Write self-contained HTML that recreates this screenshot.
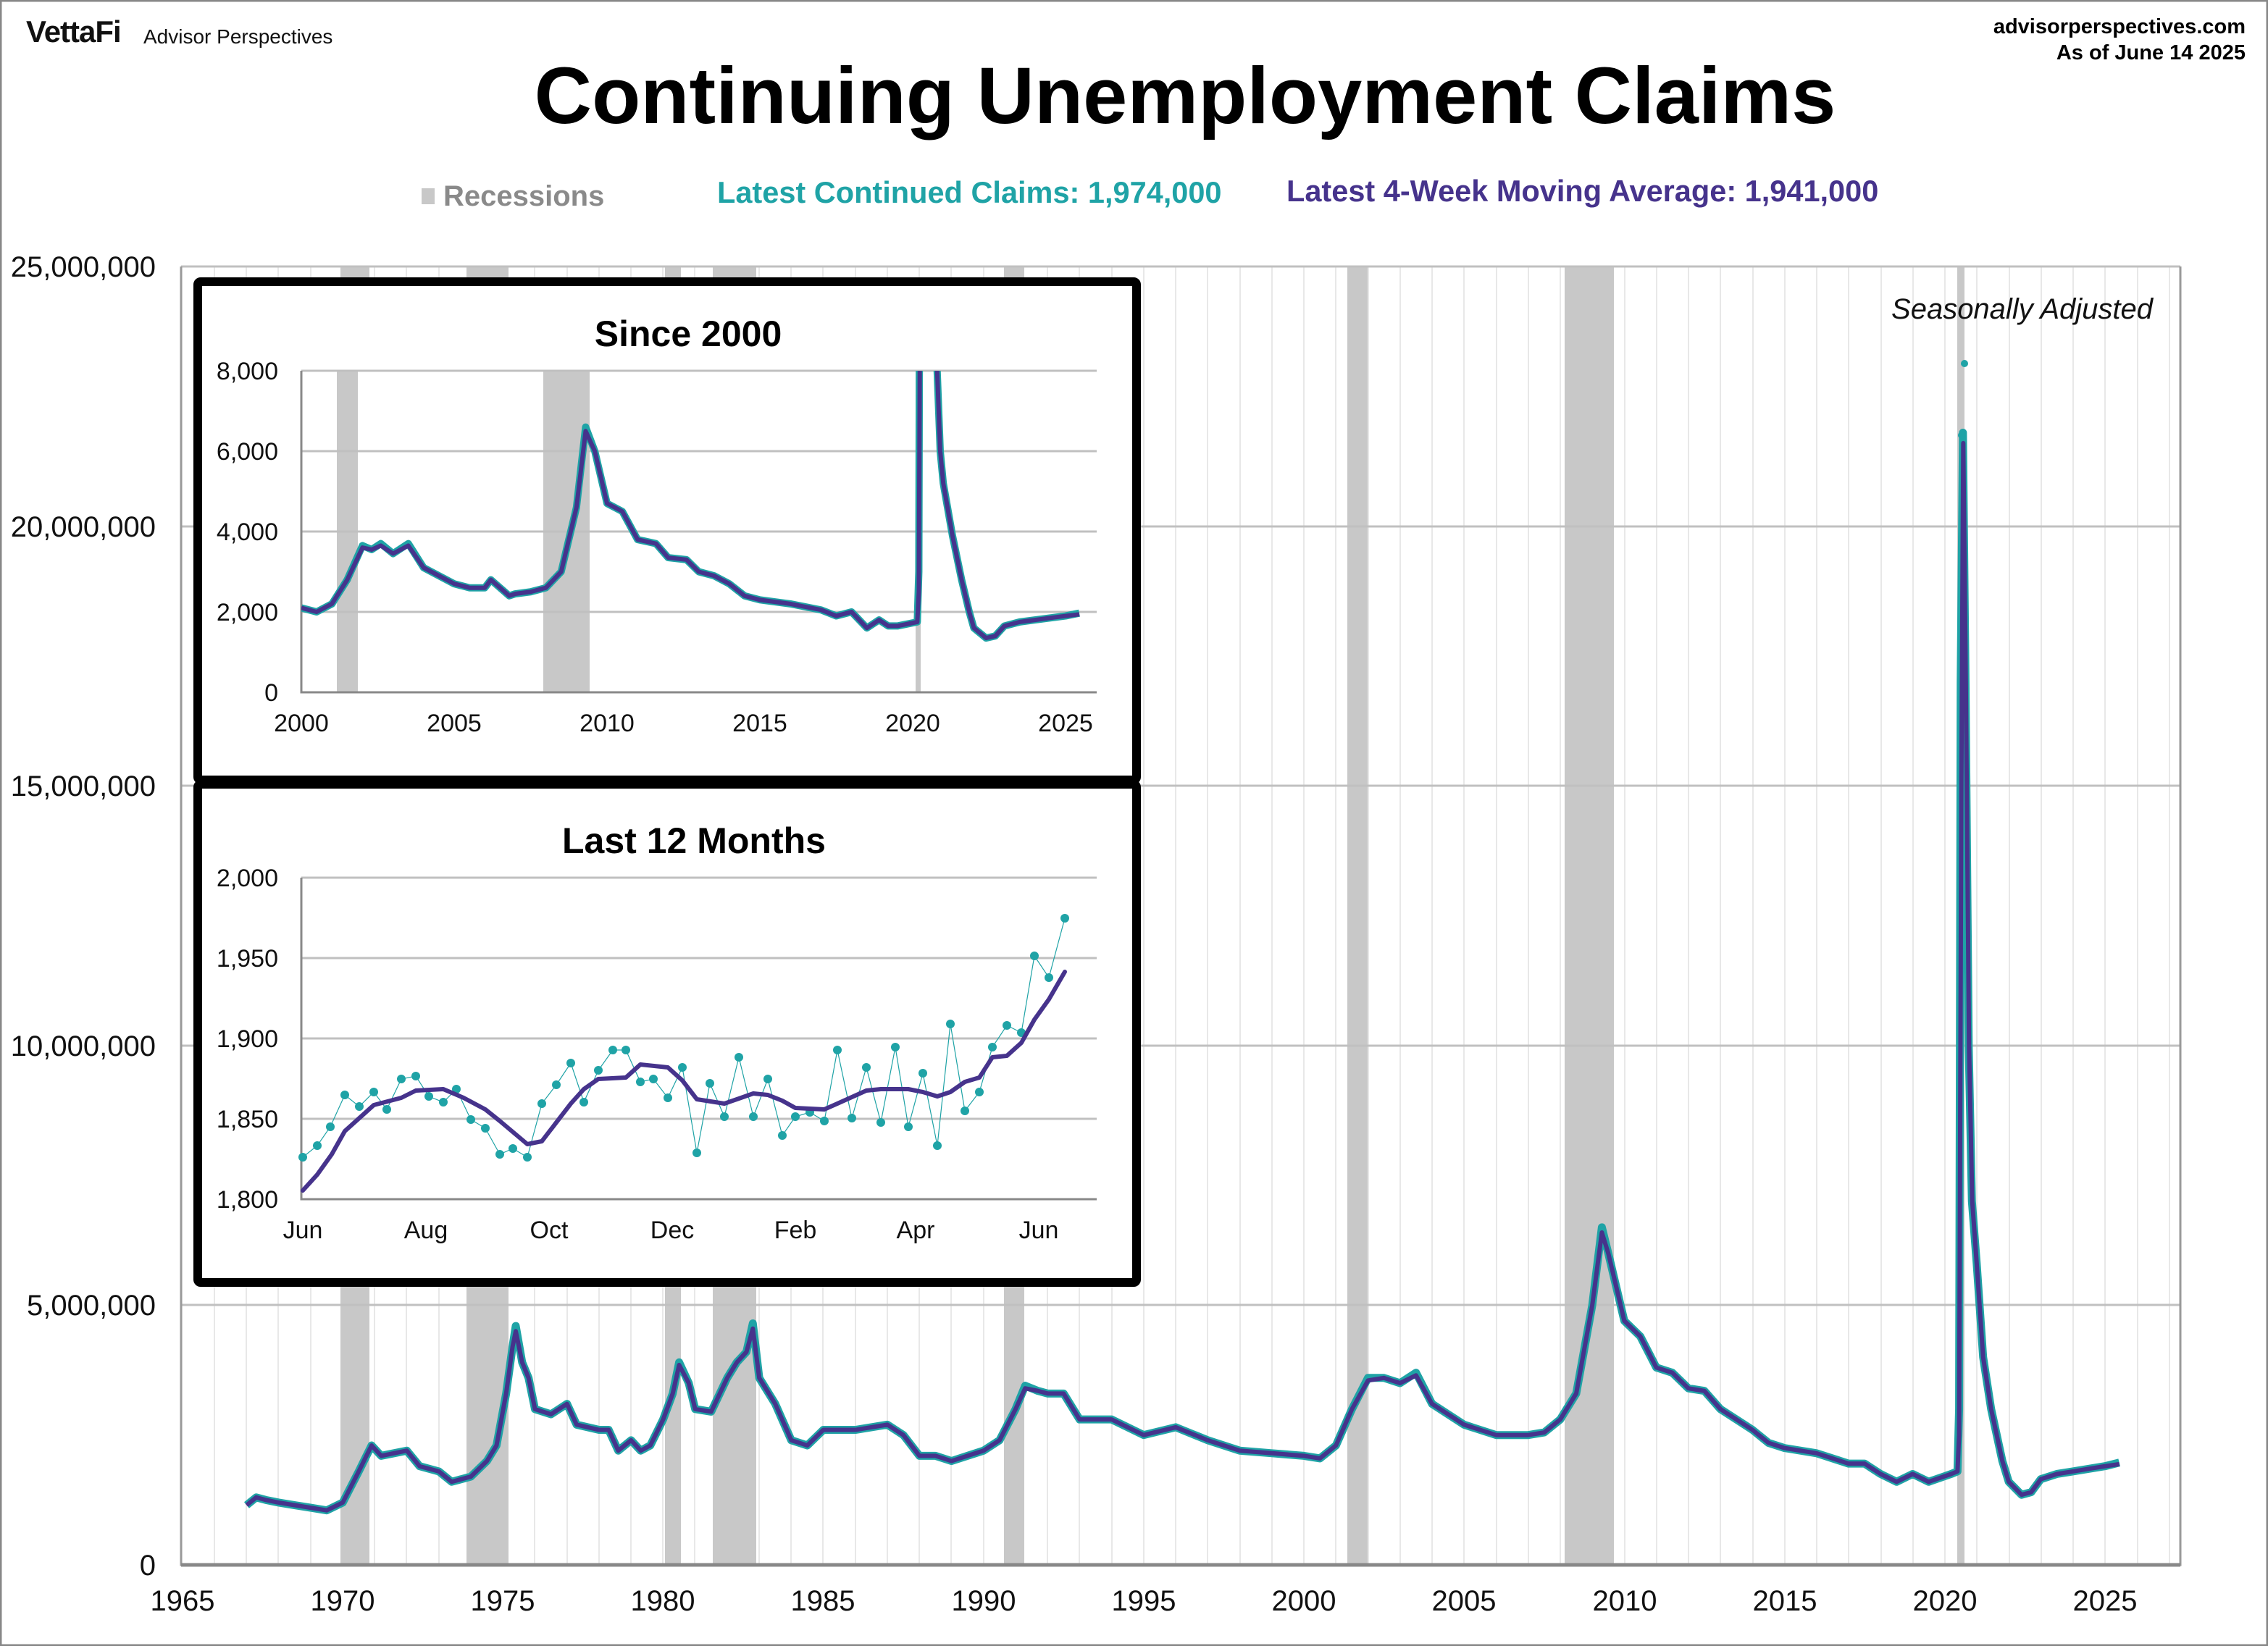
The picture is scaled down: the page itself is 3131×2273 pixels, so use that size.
<!DOCTYPE html>
<html><head><meta charset="utf-8"><style>
html,body{margin:0;padding:0;background:#fff}
svg{display:block;font-family:"Liberation Sans",Arial,sans-serif}
</style></head><body>
<svg width="3131" height="2273" viewBox="0 0 3131 2273" xmlns="http://www.w3.org/2000/svg">
<defs>
<clipPath id="c1"><rect x="416" y="512" width="1098" height="444"/></clipPath>
<clipPath id="cm"><rect x="250" y="368" width="2760" height="1793"/></clipPath>
</defs>
<rect x="1" y="1" width="3129" height="2271" fill="#fff" stroke="#888" stroke-width="3"/>
<!-- header -->
<text x="36" y="58" font-size="42" font-weight="bold" fill="#111" letter-spacing="-1">VettaFi</text>
<text x="198" y="60" font-size="28" fill="#111">Advisor Perspectives</text>
<text x="3100" y="46" font-size="29" font-weight="bold" text-anchor="end">advisorperspectives.com</text>
<text x="3100" y="82" font-size="29" font-weight="bold" text-anchor="end">As of June 14 2025</text>
<text x="1636" y="170" font-size="110" font-weight="bold" text-anchor="middle">Continuing Unemployment Claims</text>
<rect x="582" y="260" width="18" height="22" fill="#c8c8c8"/>
<text x="612" y="284" font-size="40" font-weight="bold" fill="#8a8a8a">Recessions</text>
<text x="990" y="280" font-size="41.5" font-weight="bold" fill="#1fa3a6">Latest Continued Claims: 1,974,000</text>
<text x="1776" y="278" font-size="41.5" font-weight="bold" fill="#46338c">Latest 4-Week Moving Average: 1,941,000</text>

<!-- main chart grid -->
<g stroke="#e8e8e8" stroke-width="2">
<path d="M296 368V2161M340 368V2161M384 368V2161M429 368V2161M473 368V2161M517 368V2161M561 368V2161M606 368V2161M650 368V2161M694 368V2161M738 368V2161M783 368V2161M827 368V2161M871 368V2161M915 368V2161M959 368V2161M1004 368V2161M1048 368V2161M1092 368V2161M1136 368V2161M1181 368V2161M1225 368V2161M1269 368V2161M1313 368V2161M1358 368V2161M1402 368V2161M1446 368V2161M1490 368V2161M1535 368V2161M1579 368V2161M1623 368V2161M1667 368V2161M1712 368V2161M1756 368V2161M1800 368V2161M1844 368V2161M1889 368V2161M1933 368V2161M1977 368V2161M2021 368V2161M2066 368V2161M2110 368V2161M2154 368V2161M2198 368V2161M2243 368V2161M2287 368V2161M2331 368V2161M2375 368V2161M2420 368V2161M2464 368V2161M2508 368V2161M2552 368V2161M2597 368V2161M2641 368V2161M2685 368V2161M2729 368V2161M2774 368V2161M2818 368V2161M2862 368V2161M2906 368V2161M2951 368V2161M2995 368V2161"/>
</g>
<!-- recessions main -->
<g fill="#c8c8c8">
<rect x="470" y="368" width="40" height="1793"/>
<rect x="644" y="368" width="58" height="1793"/>
<rect x="918" y="368" width="22" height="1793"/>
<rect x="984" y="368" width="60" height="1793"/>
<rect x="1386" y="368" width="28" height="1793"/>
<rect x="1860" y="368" width="28" height="1793"/>
<rect x="2160" y="368" width="68" height="1793"/>
<rect x="2702" y="368" width="10" height="1793"/>
</g>
<g stroke="#c0c0c0" stroke-width="3">
<path d="M250 368H3010M250 727H3010M250 1085H3010M250 1444H3010M250 1802H3010"/>
</g>
<path d="M250 368V2161H3010V368" fill="none" stroke="#999" stroke-width="3"/>
<path d="M250 2161H3010" stroke="#888" stroke-width="5"/>
<!-- y labels -->
<g font-size="40" text-anchor="end" fill="#111">
<text x="215" y="382">25,000,000</text>
<text x="215" y="741">20,000,000</text>
<text x="215" y="1099">15,000,000</text>
<text x="215" y="1458">10,000,000</text>
<text x="215" y="1816">5,000,000</text>
<text x="215" y="2175">0</text>
</g>
<g font-size="40" text-anchor="middle" fill="#111">
<text x="252" y="2224">1965</text><text x="473" y="2224">1970</text><text x="694" y="2224">1975</text><text x="915" y="2224">1980</text><text x="1136" y="2224">1985</text><text x="1358" y="2224">1990</text><text x="1579" y="2224">1995</text><text x="1800" y="2224">2000</text><text x="2021" y="2224">2005</text><text x="2243" y="2224">2010</text><text x="2464" y="2224">2015</text><text x="2685" y="2224">2020</text><text x="2906" y="2224">2025</text>
</g>
<text x="2972" y="440" font-size="40" font-style="italic" text-anchor="end" fill="#111">Seasonally Adjusted</text>
<!-- main series -->
<g clip-path="url(#cm)">
<g transform="translate(252,2161) scale(44.23,-71.72) translate(-1965,0)">
<polyline vector-effect="non-scaling-stroke" fill="none" stroke="#1fa3a6" stroke-width="11" stroke-linejoin="round" points="1967,1.15 1967.3,1.3 1967.6,1.25 1968,1.2 1968.5,1.15 1969,1.1 1969.5,1.05 1970,1.2 1970.5,1.8 1970.7,2.05 1970.9,2.3 1971.2,2.1 1971.6,2.15 1972,2.2 1972.4,1.9 1973,1.8 1973.4,1.6 1974,1.7 1974.5,2.0 1974.8,2.3 1975.1,3.3 1975.3,4.2 1975.4,4.6 1975.6,3.9 1975.8,3.6 1976,3.0 1976.5,2.9 1977,3.1 1977.3,2.7 1978,2.6 1978.3,2.6 1978.6,2.2 1979,2.4 1979.3,2.2 1979.6,2.3 1980,2.8 1980.3,3.3 1980.5,3.9 1980.8,3.5 1981,3.0 1981.5,2.95 1982,3.6 1982.3,3.9 1982.6,4.1 1982.8,4.65 1983,3.6 1983.5,3.1 1984,2.4 1984.5,2.3 1985,2.6 1986,2.6 1986.5,2.65 1987,2.7 1987.5,2.5 1988,2.1 1988.5,2.1 1989,2.0 1989.5,2.1 1990,2.2 1990.5,2.4 1991,3.0 1991.3,3.45 1991.7,3.35 1992,3.3 1992.5,3.3 1993,2.8 1993.5,2.8 1994,2.8 1995,2.5 1996,2.65 1997,2.4 1998,2.2 1999,2.15 2000,2.1 2000.5,2.05 2001,2.3 2001.5,3.0 2002,3.6 2002.5,3.6 2003,3.5 2003.5,3.7 2004,3.1 2004.5,2.9 2005,2.7 2006,2.5 2007,2.5 2007.5,2.55 2008,2.8 2008.5,3.3 2009,5.0 2009.3,6.5 2009.5,6.0 2010,4.7 2010.5,4.4 2011,3.8 2011.5,3.7 2012,3.4 2012.5,3.35 2013,3.0 2014,2.6 2014.5,2.35 2015,2.25 2016,2.15 2017,1.95 2017.5,1.95 2018,1.75 2018.5,1.6 2019,1.75 2019.5,1.6 2020.2,1.75 2020.4,1.8 2020.45,3.0 2020.5,17 2020.57,21.8 2020.65,17 2020.75,10 2020.85,7 2021,5.8 2021.2,4.0 2021.45,3.0 2021.8,2.0 2022,1.6 2022.4,1.35 2022.7,1.4 2023,1.65 2023.5,1.75 2024,1.8 2024.5,1.85 2025,1.9 2025.45,1.97"/>
<polyline vector-effect="non-scaling-stroke" fill="none" stroke="#46338c" stroke-width="6" stroke-linejoin="round" points="1967,1.15 1967.3,1.3 1967.6,1.25 1968,1.2 1968.5,1.15 1969,1.1 1969.5,1.05 1970,1.2 1970.5,1.8 1970.7,2.05 1970.9,2.3 1971.2,2.1 1971.6,2.15 1972,2.2 1972.4,1.9 1973,1.8 1973.4,1.6 1974,1.7 1974.5,2.0 1974.8,2.3 1975.1,3.3 1975.3,4.2 1975.4,4.5 1975.6,3.9 1975.8,3.6 1976,3.0 1976.5,2.9 1977,3.1 1977.3,2.7 1978,2.6 1978.3,2.6 1978.6,2.2 1979,2.4 1979.3,2.2 1979.6,2.3 1980,2.8 1980.3,3.3 1980.5,3.85 1980.8,3.5 1981,3.0 1981.5,2.95 1982,3.6 1982.3,3.9 1982.6,4.1 1982.8,4.55 1983,3.6 1983.5,3.1 1984,2.4 1984.5,2.3 1985,2.6 1986,2.6 1986.5,2.65 1987,2.7 1987.5,2.5 1988,2.1 1988.5,2.1 1989,2.0 1989.5,2.1 1990,2.2 1990.5,2.4 1991,3.0 1991.3,3.4 1991.7,3.35 1992,3.3 1992.5,3.3 1993,2.8 1993.5,2.8 1994,2.8 1995,2.5 1996,2.65 1997,2.4 1998,2.2 1999,2.15 2000,2.1 2000.5,2.05 2001,2.3 2001.5,3.0 2002,3.55 2002.5,3.6 2003,3.5 2003.5,3.65 2004,3.1 2004.5,2.9 2005,2.7 2006,2.5 2007,2.5 2007.5,2.55 2008,2.8 2008.5,3.3 2009,5.0 2009.3,6.4 2009.5,6.0 2010,4.7 2010.5,4.4 2011,3.8 2011.5,3.7 2012,3.4 2012.5,3.35 2013,3.0 2014,2.6 2014.5,2.35 2015,2.25 2016,2.15 2017,1.95 2017.5,1.95 2018,1.75 2018.5,1.6 2019,1.75 2019.5,1.6 2020.2,1.75 2020.4,1.8 2020.45,2.5 2020.52,15 2020.58,21.6 2020.66,17 2020.76,10 2020.86,7 2021,5.8 2021.2,4.0 2021.45,3.0 2021.8,2.0 2022,1.6 2022.4,1.35 2022.7,1.4 2023,1.65 2023.5,1.75 2024,1.8 2024.5,1.85 2025,1.9 2025.45,1.94"/>
</g>
<circle cx="2712" cy="502" r="5" fill="#1fa3a6"/>
<circle cx="2708" cy="601" r="5" fill="#1fa3a6"/>
</g>

<!-- inset 1 -->
<rect x="273" y="389" width="1296" height="688" fill="#fff" stroke="#000" stroke-width="12" rx="4"/>
<text x="950" y="478" font-size="50" font-weight="bold" text-anchor="middle">Since 2000</text>
<g fill="#c8c8c8">
<rect x="465" y="512" width="29" height="444"/>
<rect x="750" y="512" width="64" height="444"/>
<rect x="1264" y="512" width="7" height="444"/>
</g>
<g stroke="#c0c0c0" stroke-width="3"><path d="M416 512H1514M416 623H1514M416 734H1514M416 845H1514"/></g>
<path d="M416 512V956H1514" fill="none" stroke="#888" stroke-width="3"/>
<g font-size="34" text-anchor="end" fill="#111">
<text x="384" y="524">8,000</text><text x="384" y="635">6,000</text><text x="384" y="746">4,000</text><text x="384" y="857">2,000</text><text x="384" y="968">0</text>
</g>
<g font-size="34" text-anchor="middle" fill="#111">
<text x="416" y="1010">2000</text><text x="627" y="1010">2005</text><text x="838" y="1010">2010</text><text x="1049" y="1010">2015</text><text x="1260" y="1010">2020</text><text x="1471" y="1010">2025</text>
</g>
<g clip-path="url(#c1)">
<g transform="translate(416,956) scale(42.2,-55.5) translate(-2000,0)">
<polyline vector-effect="non-scaling-stroke" fill="none" stroke="#1fa3a6" stroke-width="10" stroke-linejoin="round" points="2000,2.1 2000.5,2.0 2001,2.2 2001.5,2.8 2002,3.65 2002.3,3.55 2002.6,3.7 2003,3.45 2003.5,3.7 2004,3.1 2004.5,2.9 2005,2.7 2005.5,2.6 2006,2.6 2006.2,2.8 2006.8,2.4 2007,2.45 2007.5,2.5 2008,2.6 2008.5,3.0 2009,4.6 2009.3,6.6 2009.6,6.0 2010,4.7 2010.5,4.5 2011,3.8 2011.6,3.7 2012,3.35 2012.6,3.3 2013,3.0 2013.5,2.9 2014,2.7 2014.5,2.4 2015,2.3 2016,2.2 2017,2.05 2017.5,1.9 2018,2.0 2018.5,1.6 2018.9,1.8 2019.2,1.65 2019.5,1.65 2020.15,1.75 2020.2,3.0 2020.25,18 2020.35,22 2020.5,17 2020.7,11 2020.8,8 2020.9,6 2021,5.2 2021.3,3.9 2021.6,2.8 2021.85,2.0 2022,1.6 2022.4,1.35 2022.7,1.4 2023,1.65 2023.5,1.75 2024,1.8 2024.5,1.85 2025,1.9 2025.45,1.97"/>
<polyline vector-effect="non-scaling-stroke" fill="none" stroke="#46338c" stroke-width="6" stroke-linejoin="round" points="2000,2.1 2000.5,2.0 2001,2.2 2001.5,2.8 2002,3.6 2002.3,3.55 2002.6,3.65 2003,3.45 2003.5,3.65 2004,3.1 2004.5,2.9 2005,2.7 2005.5,2.6 2006,2.6 2006.2,2.8 2006.8,2.4 2007,2.45 2007.5,2.5 2008,2.6 2008.5,3.0 2009,4.6 2009.3,6.5 2009.6,6.0 2010,4.7 2010.5,4.5 2011,3.8 2011.6,3.7 2012,3.35 2012.6,3.3 2013,3.0 2013.5,2.9 2014,2.7 2014.5,2.4 2015,2.3 2016,2.2 2017,2.05 2017.5,1.9 2018,2.0 2018.5,1.6 2018.9,1.8 2019.2,1.65 2019.5,1.65 2020.15,1.75 2020.2,2.5 2020.27,15 2020.35,21.6 2020.5,17 2020.7,11 2020.8,8 2020.9,6 2021,5.2 2021.3,3.9 2021.6,2.8 2021.85,2.0 2022,1.6 2022.4,1.35 2022.7,1.4 2023,1.65 2023.5,1.75 2024,1.8 2024.5,1.85 2025,1.9 2025.45,1.94"/>
</g>
</g>

<!-- inset 2 -->
<rect x="273" y="1083" width="1296" height="688" fill="#fff" stroke="#000" stroke-width="12" rx="4"/>
<text x="958" y="1178" font-size="50" font-weight="bold" text-anchor="middle">Last 12 Months</text>
<g stroke="#c0c0c0" stroke-width="3"><path d="M416 1212H1514M416 1323H1514M416 1434H1514M416 1545H1514"/></g>
<path d="M416 1212V1656H1514" fill="none" stroke="#888" stroke-width="3"/>
<g font-size="34" text-anchor="end" fill="#111">
<text x="384" y="1224">2,000</text><text x="384" y="1335">1,950</text><text x="384" y="1446">1,900</text><text x="384" y="1557">1,850</text><text x="384" y="1668">1,800</text>
</g>
<g font-size="34" text-anchor="middle" fill="#111">
<text x="418" y="1710">Jun</text><text x="588" y="1710">Aug</text><text x="758" y="1710">Oct</text><text x="928" y="1710">Dec</text><text x="1098" y="1710">Feb</text><text x="1264" y="1710">Apr</text><text x="1434" y="1710">Jun</text>
</g>
<g transform="scale(2)">
<polyline fill="none" stroke="#1fa3a6" stroke-width="0.6" points="209,799 219,791 228,778 238,756 248,764 258,754 267,766 277,745 287,743 296,757 306,761 315,752 325,773 335,779 345,797 354,793 364,799 374,762 384,749 394,734 403,761 413,739 423,725 432,725 442,747 451,745 461,758 471,737 481,796 490,748 500,771 510,730 520,771 530,745 540,784 549,771 559,768 569,774 578,725 588,772 598,737 608,775 618,723 627,778 637,741 647,791 656,707 666,767 676,754 685,723 695,708 705,713 714,660 724,675 735,634"/>
<g fill="#1fa3a6">
<circle cx="209" cy="799" r="3"/><circle cx="219" cy="791" r="3"/><circle cx="228" cy="778" r="3"/><circle cx="238" cy="756" r="3"/><circle cx="248" cy="764" r="3"/><circle cx="258" cy="754" r="3"/><circle cx="267" cy="766" r="3"/><circle cx="277" cy="745" r="3"/><circle cx="287" cy="743" r="3"/><circle cx="296" cy="757" r="3"/><circle cx="306" cy="761" r="3"/><circle cx="315" cy="752" r="3"/><circle cx="325" cy="773" r="3"/><circle cx="335" cy="779" r="3"/><circle cx="345" cy="797" r="3"/><circle cx="354" cy="793" r="3"/><circle cx="364" cy="799" r="3"/><circle cx="374" cy="762" r="3"/><circle cx="384" cy="749" r="3"/><circle cx="394" cy="734" r="3"/><circle cx="403" cy="761" r="3"/><circle cx="413" cy="739" r="3"/><circle cx="423" cy="725" r="3"/><circle cx="432" cy="725" r="3"/><circle cx="442" cy="747" r="3"/><circle cx="451" cy="745" r="3"/><circle cx="461" cy="758" r="3"/><circle cx="471" cy="737" r="3"/><circle cx="481" cy="796" r="3"/><circle cx="490" cy="748" r="3"/><circle cx="500" cy="771" r="3"/><circle cx="510" cy="730" r="3"/><circle cx="520" cy="771" r="3"/><circle cx="530" cy="745" r="3"/><circle cx="540" cy="784" r="3"/><circle cx="549" cy="771" r="3"/><circle cx="559" cy="768" r="3"/><circle cx="569" cy="774" r="3"/><circle cx="578" cy="725" r="3"/><circle cx="588" cy="772" r="3"/><circle cx="598" cy="737" r="3"/><circle cx="608" cy="775" r="3"/><circle cx="618" cy="723" r="3"/><circle cx="627" cy="778" r="3"/><circle cx="637" cy="741" r="3"/><circle cx="647" cy="791" r="3"/><circle cx="656" cy="707" r="3"/><circle cx="666" cy="767" r="3"/><circle cx="676" cy="754" r="3"/><circle cx="685" cy="723" r="3"/><circle cx="695" cy="708" r="3"/><circle cx="705" cy="713" r="3"/><circle cx="714" cy="660" r="3"/><circle cx="724" cy="675" r="3"/><circle cx="735" cy="634" r="3"/>
</g>
<polyline fill="none" stroke="#46338c" stroke-width="3" stroke-linejoin="round" stroke-linecap="round" points="209,822 219,811 229,797 238,781 258,763 277,758 287,753 306,752 320,758 335,766 345,774 364,790 374,788 384,775 394,762 403,752 413,745 432,744 442,735 461,737 471,746 481,759 500,762 520,755 530,756 540,760 549,765 569,766 578,762 598,753 608,752 627,752 637,754 647,757 656,754 666,747 676,744 685,730 695,729 705,720 714,704 724,690 735,671"/>
</g>
</svg>
</body></html>
